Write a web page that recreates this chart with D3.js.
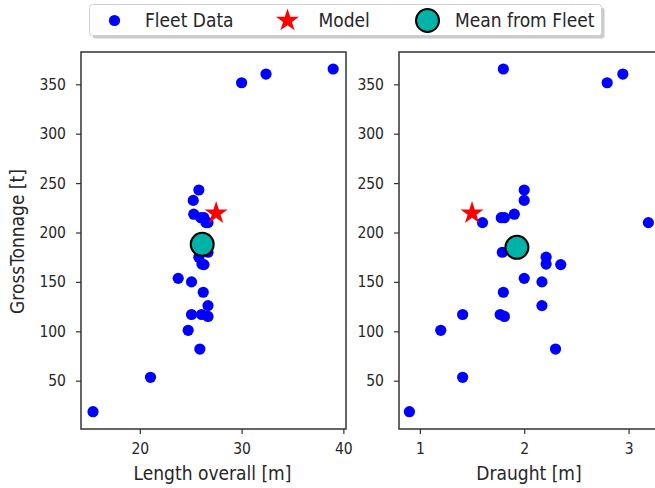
<!DOCTYPE html>
<html>
<head>
<meta charset="utf-8">
<script src="https://cdn.jsdelivr.net/npm/d3@7"></script>
<style>
  html, body { margin: 0; padding: 0; background: #fff; }
  svg { display: block; font-family: "DejaVu Sans Condensed", "DejaVu Sans", sans-serif; }
</style>
</head>
<body>
<svg id="chart" width="655" height="488"></svg>
<script>
// ---- data ----
const grossTonnage = [18.6, 53.4, 82, 101, 115, 117, 117, 126, 139.5, 150, 153.6, 167.5, 168, 175, 180, 210, 210, 215, 215, 218.5, 232.5, 243, 351.6, 360.4, 365.5];
const lengthOverall = [15.4, 21.05, 25.9, 24.75, 26.7, 25.08, 26.07, 26.7, 26.23, 25.08, 23.77, 26.3, 26.1, 25.8, 26.7, 26.7, 26.5, 26.3, 26.0, 25.3, 25.25, 25.8, 30.0, 32.4, 39.0];
const draught = [0.90, 1.41, 2.30, 1.20, 1.81, 1.41, 1.77, 2.17, 1.80, 2.17, 2.0, 2.35, 2.21, 2.21, 1.79, 1.60, 3.19, 1.81, 1.78, 1.905, 2.0, 2.0, 2.795, 2.945, 1.80];
const modelPoint = { length: 27.5, draught: 1.50, gt: 219.5 };
const meanPoint = { length: 26.13, draught: 1.93, gtLength: 188, gtDraught: 185 };
const yTicks = [50, 100, 150, 200, 250, 300, 350];
const xTicksLength = [20, 30, 40];
const xTicksDraught = [1, 2, 3];
const legendLabels = ["Fleet Data", "Model", "Mean from Fleet"];

// ---- layout ----
const svg = d3.select("#chart");
const FONT = "DejaVu Sans Condensed, DejaVu Sans, sans-serif";
const tickFont = 15.5, labelFont = 19;
const topY = 52, bottomY = 429;
const y = d3.scaleLinear().domain([1.1, 382.7]).range([bottomY, topY]);
const panels = [
  { x0: 81, x1: 346, domain: [14.22, 40.26], xs: lengthOverall, ticks: xTicksLength, labelX: 212.5,
    label: "Length overall [m]", mx: modelPoint.length, meanX: meanPoint.length, meanY: meanPoint.gtLength, ylab: true },
  { x0: 399, x1: 663, domain: [0.80, 3.33], xs: draught, ticks: xTicksDraught, labelX: 529,
    label: "Draught [m]", mx: modelPoint.draught, meanX: meanPoint.draught, meanY: meanPoint.gtDraught, ylab: false }
];
const textColor = "#262626";
const meanColor = "#00b3a8";
const starSym = d3.symbol().type(d3.symbolStar).size(165);

panels.forEach((p, i) => {
  const x = d3.scaleLinear().domain(p.domain).range([p.x0, p.x1]);
  const clipId = "clip" + i;
  svg.append("clipPath").attr("id", clipId).append("rect")
    .attr("x", p.x0).attr("y", topY).attr("width", p.x1 - p.x0).attr("height", bottomY - topY);
  const g = svg.append("g");

  // data points
  const pts = g.append("g").attr("clip-path", `url(#${clipId})`);
  pts.selectAll("circle.fleet").data(p.xs.map((v, k) => [v, grossTonnage[k]]))
    .enter().append("circle").attr("class", "fleet")
    .attr("cx", d => x(d[0])).attr("cy", d => y(d[1])).attr("r", 5.6)
    .attr("fill", "#0000ff");
  pts.append("path").attr("d", starSym)
    .attr("transform", `translate(${x(p.mx)},${y(modelPoint.gt)})`)
    .attr("fill", "#ff0000");
  pts.append("circle").attr("cx", x(p.meanX)).attr("cy", y(p.meanY)).attr("r", 11.5)
    .attr("fill", meanColor).attr("stroke", "#000").attr("stroke-width", 2);

  // axes
  const ax = g.append("g").attr("transform", `translate(0,${bottomY})`)
    .call(d3.axisBottom(x).tickValues(p.ticks).tickFormat(d3.format("d")).tickSizeOuter(0).tickSize(5).tickPadding(9));
  const ay = g.append("g").attr("transform", `translate(${p.x0},0)`)
    .call(d3.axisLeft(y).tickValues(yTicks).tickSizeOuter(0).tickSize(5).tickPadding(10));
  [ax, ay].forEach(a => {
    a.select(".domain").remove();
    a.selectAll("line").attr("stroke", "#333").attr("stroke-width", 1.2);
    a.selectAll("text").attr("fill", textColor).attr("font-size", tickFont).attr("font-family", FONT);
  });

  // frame
  g.append("rect").attr("x", p.x0).attr("y", topY).attr("width", p.x1 - p.x0).attr("height", bottomY - topY)
    .attr("fill", "none").attr("stroke", "#333").attr("stroke-width", 1.5);

  // x label
  g.append("text").attr("x", p.labelX).attr("y", 480)
    .attr("text-anchor", "middle").attr("fill", textColor).attr("font-size", labelFont).text(p.label);
  if (p.ylab) {
    g.append("text").attr("transform", `translate(24,241.5) rotate(-90)`)
      .attr("text-anchor", "middle").attr("fill", textColor).attr("font-size", labelFont).text("GrossTonnage [t]");
  }
});

// ---- legend ----
const lg = svg.append("g");
const lx = 89.5, ly = 4.5, lw = 512, lh = 31;
lg.append("rect").attr("x", lx + 3).attr("y", ly + 3).attr("width", lw).attr("height", lh)
  .attr("rx", 3).attr("fill", "#a8a8a8").attr("opacity", 0.6);
lg.append("rect").attr("x", lx).attr("y", ly).attr("width", lw).attr("height", lh)
  .attr("rx", 3).attr("fill", "#fff").attr("stroke", "#d0d0d0").attr("stroke-width", 1);
const cy = ly + lh / 2 + 0.5;
lg.append("circle").attr("cx", 114.5).attr("cy", cy).attr("r", 5.6).attr("fill", "#0000ff");
lg.append("path").attr("d", starSym).attr("transform", `translate(287.5,${cy})`).attr("fill", "#ff0000");
lg.append("circle").attr("cx", 427.5).attr("cy", cy).attr("r", 11.5)
  .attr("fill", meanColor).attr("stroke", "#000").attr("stroke-width", 2);
const textXs = [145, 318.5, 455];
legendLabels.forEach((t, k) => {
  lg.append("text").attr("x", textXs[k]).attr("y", cy).attr("dy", "0.36em")
    .attr("fill", textColor).attr("font-size", labelFont).text(t);
});
</script>
</body>
</html>
